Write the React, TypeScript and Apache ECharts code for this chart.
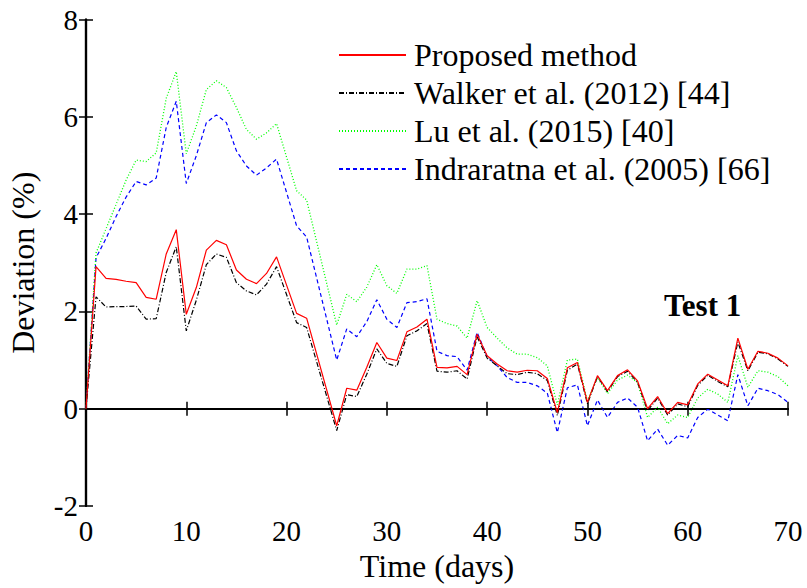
import React, { useEffect, useRef } from "react";
import * as echarts from "echarts";

const days = [0,1,2,3,4,5,6,7,8,9,10,11,12,13,14,15,16,17,18,19,21,22,25,26,27,28,29,30,31,32,33,34,35,36,37,38,39,40,41,42,43,44,45,46,47,48,49,50,51,52,53,54,55,56,57,58,59,60,61,62,63,64,65,66,67,68,69,70];

const proposed = [0,2.92,2.68,2.66,2.62,2.59,2.29,2.25,3.18,3.68,1.94,2.49,3.26,3.46,3.37,2.85,2.66,2.57,2.78,3.12,1.96,1.86,-0.35,0.42,0.38,0.85,1.36,1.04,0.99,1.58,1.68,1.84,0.85,0.84,0.87,0.70,1.53,1.09,0.92,0.78,0.75,0.79,0.78,0.62,-0.08,0.84,0.95,0.13,0.68,0.37,0.68,0.80,0.57,0.0,0.25,-0.10,0.13,0.08,0.51,0.71,0.59,0.47,1.45,0.81,1.18,1.14,1.04,0.88];

const walker = [0,2.30,2.09,2.10,2.10,2.11,1.84,1.85,2.80,3.33,1.60,2.23,2.96,3.18,3.11,2.59,2.42,2.34,2.56,2.92,1.77,1.67,-0.45,0.29,0.25,0.71,1.23,0.93,0.87,1.50,1.60,1.75,0.77,0.75,0.78,0.61,1.48,1.04,0.88,0.72,0.70,0.75,0.72,0.58,-0.14,0.79,0.92,0.10,0.66,0.35,0.66,0.77,0.54,-0.04,0.22,-0.13,0.10,0.04,0.48,0.69,0.56,0.45,1.37,0.78,1.16,1.13,1.02,0.87];

const lu = [0,3.2,3.7,4.2,4.7,5.11,5.08,5.26,6.38,6.93,5.24,5.81,6.56,6.74,6.60,6.19,5.74,5.54,5.67,5.86,4.48,4.29,1.72,2.35,2.20,2.50,2.96,2.53,2.37,2.87,2.87,2.94,1.84,1.75,1.70,1.45,2.22,1.67,1.45,1.25,1.12,1.12,1.05,0.88,0.08,1.0,1.02,0.16,0.64,0.31,0.59,0.69,0.54,-0.18,0.03,-0.31,-0.13,-0.18,0.22,0.40,0.30,0.13,1.09,0.44,0.78,0.75,0.66,0.47];

const indraratna = [0,3.1,3.5,3.95,4.35,4.67,4.60,4.74,5.78,6.32,4.63,5.20,5.88,6.04,5.88,5.30,4.99,4.80,4.95,5.13,3.76,3.53,1.0,1.64,1.48,1.79,2.24,1.84,1.67,2.18,2.20,2.26,1.18,1.09,1.07,0.79,1.57,1.07,0.88,0.64,0.54,0.54,0.47,0.32,-0.49,0.43,0.49,-0.35,0.18,-0.18,0.13,0.22,0.03,-0.66,-0.42,-0.75,-0.55,-0.60,-0.18,-0.01,-0.13,-0.25,0.70,0.06,0.42,0.37,0.29,0.13];

const seriesNames = [
  "Proposed method",
  "Walker et al. (2012) [44]",
  "Lu et al. (2015) [40]",
  "Indraratna et al. (2005) [66]",
];

const FONT = "Liberation Serif";

const pairs = (vals: number[]) => days.map((d, i) => [d, vals[i]]);

export default function App() {
  const ref = useRef<HTMLDivElement>(null);
  useEffect(() => {
    if (!ref.current) return;
    const chart = echarts.init(ref.current, undefined, { renderer: "svg" });
    const axisLine = { show: true, lineStyle: { color: "#000", width: 2.2 } };
    const tick = { show: true, inside: true, length: 7, lineStyle: { color: "#000", width: 1.5 } };
    const labelStyle = { color: "#000", fontFamily: FONT, fontSize: 29 };
    chart.setOption({
      animation: false,
      backgroundColor: "#fff",
      grid: { left: 86, right: 19, top: 19.5, bottom: 82, containLabel: false, outerBoundsMode: "none" },
      legend: {
        orient: "vertical",
        left: 338,
        top: 38,
        padding: 0,
        itemWidth: 67,
        itemHeight: 14,
        itemGap: 4,
        selectedMode: false,
        itemStyle: { opacity: 0 },
        textStyle: { fontFamily: FONT, fontSize: 32, color: "#000", lineHeight: 34, padding: [0, 0, 0, 3] },
        data: seriesNames,
      },
      xAxis: [
        {
          type: "value",
          min: 0,
          max: 70,
          interval: 10,
          position: "bottom",
          axisLine,
          axisTick: tick,
          splitLine: { show: false },
          axisLabel: { ...labelStyle, margin: 10 },
          name: "Time (days)",
          nameLocation: "middle",
          nameGap: 41,
          nameTextStyle: { fontFamily: FONT, fontSize: 32, color: "#000" },
        },
        {
          type: "value",
          min: 0,
          max: 70,
          interval: 10,
          position: "top",
          axisLine,
          axisTick: tick,
          splitLine: { show: false },
          axisLabel: { show: false },
        },
      ],
      yAxis: [
        {
          type: "value",
          min: -2,
          max: 8,
          interval: 2,
          position: "left",
          axisLine,
          axisTick: tick,
          splitLine: { show: false },
          axisLabel: { ...labelStyle, margin: 8 },
          name: "Deviation (%)",
          nameLocation: "middle",
          nameGap: 47,
          nameTextStyle: { fontFamily: FONT, fontSize: 32, color: "#000" },
        },
        {
          type: "value",
          min: -2,
          max: 8,
          interval: 2,
          position: "right",
          axisLine,
          axisTick: tick,
          splitLine: { show: false },
          axisLabel: { show: false },
        },
      ],
      graphic: [
        {
          type: "text",
          left: 664,
          top: 290,
          style: { text: "Test 1", fontFamily: FONT, fontWeight: "bold", fontSize: 31, fill: "#000" },
        },
      ],
      series: [
        {
          name: seriesNames[0],
          type: "line",
          symbol: "none",
          data: pairs(proposed),
          lineStyle: { color: "#ff0000", width: 1.2, type: "solid" },
          itemStyle: { color: "#ff0000" },
          z: 5,
          markLine: {
            silent: true,
            symbol: ["none", "none"],
            label: { show: false },
            lineStyle: { color: "#000", width: 1, type: "solid" },
            data: [{ yAxis: 0 }],
          },
        },
        {
          name: seriesNames[1],
          type: "line",
          symbol: "none",
          data: pairs(walker),
          lineStyle: { color: "#000000", width: 1.2, type: [5, 2, 1, 2] },
          itemStyle: { color: "#000000" },
          z: 4,
        },
        {
          name: seriesNames[2],
          type: "line",
          symbol: "none",
          data: pairs(lu),
          lineStyle: { color: "#00ff00", width: 1.3, type: [1, 2] },
          itemStyle: { color: "#00ff00" },
          z: 3,
        },
        {
          name: seriesNames[3],
          type: "line",
          symbol: "none",
          data: pairs(indraratna),
          lineStyle: { color: "#0000ff", width: 1.2, type: [4, 3] },
          itemStyle: { color: "#0000ff" },
          z: 2,
        },
      ],
    });
    return () => chart.dispose();
  }, []);
  return (
    <div
      ref={ref}
      style={{ position: "fixed", left: 0, top: 0, width: 807, height: 588, background: "#fff" }}
    />
  );
}
